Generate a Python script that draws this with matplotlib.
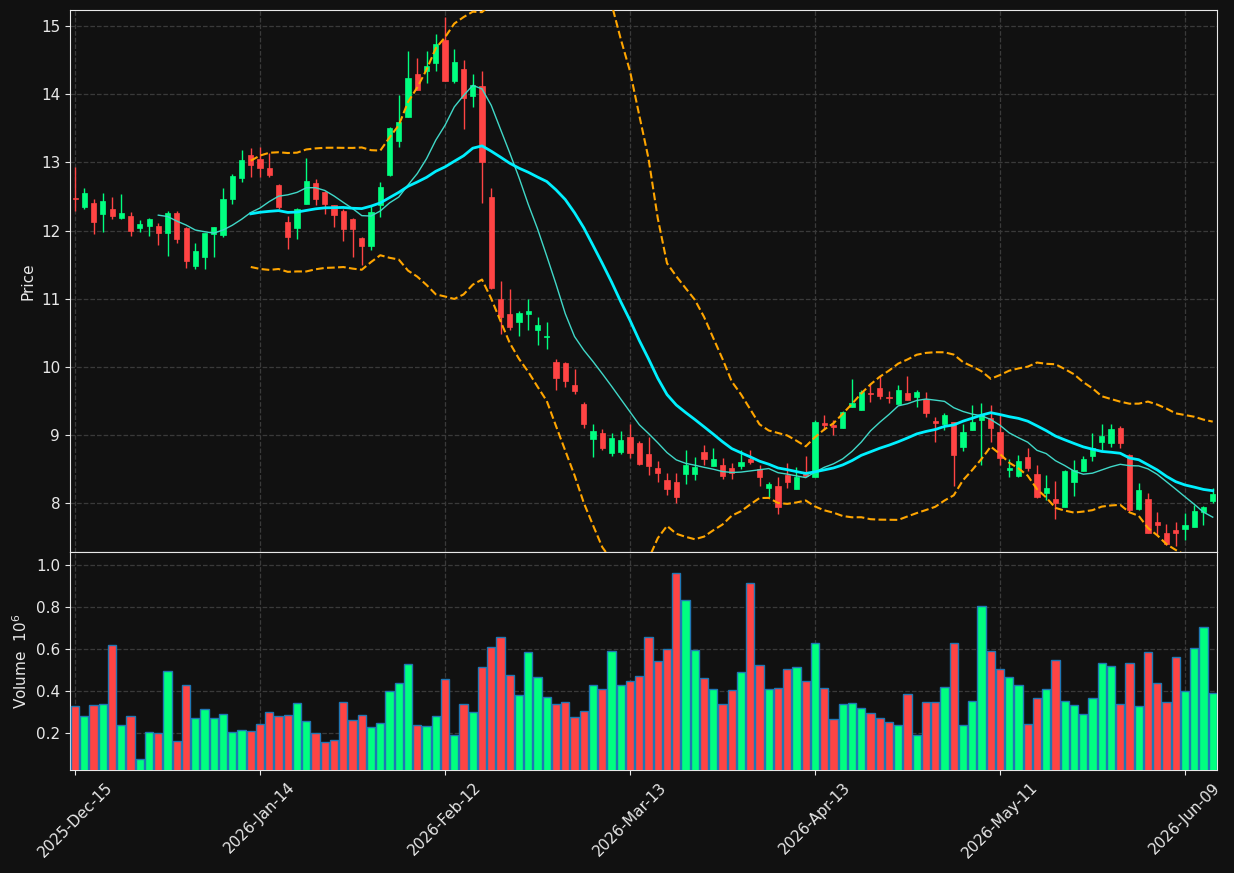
import matplotlib
matplotlib.use("Agg")
import matplotlib.pyplot as plt
import numpy as np
import pandas as pd

# -----------------------------
# Data (daily OHLC, volume in millions)
# -----------------------------
holidays = ["2025-12-25", "2026-01-01", "2026-01-19", "2026-02-16",
            "2026-04-03", "2026-05-25"]

opens = [
    12.47, 12.34, 12.40, 12.25, 12.32, 12.18, 12.21, 12.04, 12.07, 12.07,
    11.96, 12.26, 12.04, 11.48, 11.61, 11.95, 11.94, 12.46, 12.77, 13.11,
    13.05, 12.92, 12.67, 12.13, 12.04, 12.39, 12.70, 12.57, 12.37, 12.29,
    12.17, 11.89, 11.78, 12.38, 12.81, 13.32, 13.67, 14.30, 14.34, 14.46,
    14.79, 14.20, 14.37, 13.98, 14.12, 12.49, 11.00, 10.78, 10.66, 10.78,
    10.55, 10.44, 10.08, 10.06, 9.74, 9.46, 8.95, 9.03, 8.74, 8.76,
    8.97, 8.89, 8.72, 8.52, 8.34, 8.31, 8.43, 8.43, 8.75, 8.55,
    8.56, 8.52, 8.55, 8.65, 8.50, 8.23, 8.26, 8.42, 8.21, 8.45,
    8.39, 9.18, 9.15, 9.11, 9.42, 9.37, 9.61, 9.69, 9.55, 9.46,
    9.62, 9.56, 9.53, 9.21, 9.17, 9.19, 8.82, 9.07, 9.22, 9.25,
    9.04, 8.49, 8.40, 8.68, 8.43, 8.15, 8.06, 7.95, 8.32, 8.48,
    8.70, 8.90, 8.88, 9.10, 8.71, 7.92, 8.06, 7.73, 7.57, 7.61,
    7.63, 7.66, 7.87, 8.04,
]
highs = [
    12.93, 12.62, 12.46, 12.55, 12.49, 12.53, 12.28, 12.16, 12.18, 12.11,
    12.29, 12.29, 12.06, 11.82, 11.97, 12.06, 12.62, 12.83, 13.18, 13.21,
    13.22, 13.14, 12.68, 12.21, 12.33, 13.06, 12.75, 12.58, 12.38, 12.31,
    12.18, 11.90, 12.36, 12.72, 13.52, 13.99, 14.63, 14.53, 14.63, 14.88,
    15.14, 14.66, 14.50, 14.29, 14.34, 12.63, 11.26, 11.14, 10.82, 10.99,
    10.73, 10.66, 10.12, 10.07, 9.97, 9.48, 9.16, 9.09, 9.03, 9.06,
    9.16, 8.91, 8.98, 8.62, 8.44, 8.44, 8.79, 8.68, 8.85, 8.81,
    8.67, 8.59, 8.78, 8.78, 8.56, 8.32, 8.38, 8.59, 8.53, 8.69,
    9.22, 9.29, 9.23, 9.35, 9.82, 9.66, 9.75, 9.87, 9.65, 9.73,
    9.87, 9.66, 9.63, 9.26, 9.32, 9.20, 9.17, 9.45, 9.47, 9.45,
    9.30, 8.65, 8.71, 8.81, 8.57, 8.41, 8.33, 8.49, 8.64, 8.70,
    9.03, 9.17, 9.17, 9.13, 8.72, 8.30, 8.15, 7.87, 7.70, 7.72,
    7.86, 7.97, 7.96, 8.22,
]
lows = [
    12.29, 12.32, 11.95, 11.98, 12.17, 12.17, 11.92, 11.98, 11.92, 11.79,
    11.63, 11.82, 11.45, 11.43, 11.43, 11.62, 11.91, 12.39, 12.72, 12.79,
    12.79, 12.78, 12.32, 11.73, 11.87, 12.39, 12.37, 12.25, 12.06, 11.85,
    11.61, 11.50, 11.71, 12.20, 12.80, 13.23, 13.67, 14.06, 14.17, 14.34,
    14.20, 14.17, 13.49, 13.81, 12.40, 11.15, 10.49, 10.55, 10.46, 10.55,
    10.33, 10.26, 9.66, 9.70, 9.61, 9.10, 8.68, 8.79, 8.69, 8.73,
    8.66, 8.56, 8.41, 8.32, 8.13, 8.01, 8.29, 8.35, 8.56, 8.55,
    8.36, 8.36, 8.51, 8.58, 8.25, 8.10, 7.85, 8.22, 8.21, 8.39,
    8.38, 9.08, 9.01, 9.10, 9.42, 9.37, 9.48, 9.53, 9.47, 9.46,
    9.51, 9.41, 9.26, 8.90, 9.07, 8.26, 8.77, 9.07, 8.56, 8.90,
    8.56, 8.39, 8.38, 8.48, 8.08, 8.05, 7.77, 7.94, 8.11, 8.47,
    8.62, 8.78, 8.83, 8.81, 7.88, 7.91, 7.56, 7.53, 7.39, 7.37,
    7.46, 7.65, 7.68, 8.00,
]
closes = [
    12.46, 12.55, 12.13, 12.43, 12.21, 12.26, 12.00, 12.10, 12.17, 11.96,
    12.26, 11.88, 11.55, 11.70, 11.96, 12.05, 12.46, 12.80, 13.04, 12.96,
    12.92, 12.82, 12.34, 11.90, 12.32, 12.73, 12.47, 12.39, 12.23, 12.02,
    12.02, 11.78, 12.28, 12.64, 13.51, 13.59, 14.24, 14.06, 14.41, 14.74,
    14.20, 14.47, 13.95, 14.13, 13.00, 11.16, 10.74, 10.59, 10.79, 10.82,
    10.62, 10.46, 9.84, 9.80, 9.65, 9.17, 9.06, 8.81, 8.96, 8.93,
    8.74, 8.58, 8.55, 8.44, 8.21, 8.10, 8.56, 8.53, 8.65, 8.65,
    8.40, 8.44, 8.61, 8.61, 8.38, 8.28, 7.95, 8.32, 8.39, 8.40,
    9.20, 9.15, 9.12, 9.34, 9.47, 9.64, 9.60, 9.58, 9.54, 9.66,
    9.51, 9.63, 9.33, 9.18, 9.29, 8.71, 9.05, 9.19, 9.30, 9.11,
    8.66, 8.52, 8.62, 8.52, 8.10, 8.23, 8.01, 8.48, 8.49, 8.65,
    8.81, 8.99, 9.09, 8.88, 7.90, 8.20, 7.57, 7.68, 7.41, 7.56,
    7.69, 7.89, 7.94, 8.14,
]
volumes = [
    0.327, 0.279, 0.332, 0.337, 0.618, 0.237, 0.279, 0.075, 0.203, 0.198,
    0.494, 0.160, 0.427, 0.270, 0.313, 0.270, 0.289, 0.203, 0.213, 0.208,
    0.241, 0.299, 0.279, 0.284, 0.341, 0.256, 0.198, 0.156, 0.165, 0.346,
    0.260, 0.284, 0.227, 0.246, 0.398, 0.437, 0.527, 0.237, 0.232, 0.279,
    0.456, 0.189, 0.337, 0.302, 0.513, 0.608, 0.656, 0.475, 0.380, 0.584,
    0.465, 0.370, 0.337, 0.346, 0.275, 0.303, 0.427, 0.408, 0.589, 0.427,
    0.446, 0.470, 0.656, 0.541, 0.599, 0.960, 0.832, 0.594, 0.460, 0.408,
    0.337, 0.403, 0.489, 0.913, 0.522, 0.408, 0.413, 0.503, 0.513, 0.446,
    0.627, 0.413, 0.265, 0.337, 0.341, 0.318, 0.294, 0.270, 0.251, 0.237,
    0.384, 0.189, 0.346, 0.346, 0.418, 0.627, 0.237, 0.351, 0.803, 0.589,
    0.503, 0.465, 0.427, 0.241, 0.365, 0.408, 0.546, 0.351, 0.332, 0.289,
    0.365, 0.532, 0.518, 0.337, 0.532, 0.327, 0.584, 0.437, 0.346, 0.561,
    0.399, 0.603, 0.703, 0.389,
]

dates = pd.bdate_range("2025-12-15", periods=len(closes), freq="C",
                       holidays=holidays)

# -----------------------------
# Indicators: moving averages and Bollinger bands
# -----------------------------
close_s = pd.Series(closes)
ma10 = close_s.rolling(10).mean()
ma20 = close_s.rolling(20).mean()
std20 = close_s.rolling(20).std()
bb_upper = ma20 + 2 * std20
bb_lower = ma20 - 2 * std20

# -----------------------------
# Style
# -----------------------------
bg = "#111111"
fg = "#e8e8e8"
up_color = "#00ff80"
down_color = "#ff4444"

plt.rcParams["font.size"] = 11

fig = plt.figure(figsize=(12.34, 8.73), dpi=100, facecolor=bg)
ax = fig.add_axes([0.0567, 0.3677, 0.9295, 0.6208], facecolor=bg)
axv = fig.add_axes([0.0567, 0.1180, 0.9295, 0.2497], facecolor=bg, sharex=ax)

x = np.arange(len(closes))
o = np.array(opens)
c = np.array(closes)
colors = np.where(c >= o, up_color, down_color)

# -----------------------------
# Candles
# -----------------------------
ax.vlines(x, lows, highs, colors=colors, linewidth=1, zorder=2)
body_bottom = np.minimum(o, c)
body_height = np.maximum(np.abs(c - o), 0.015)
ax.bar(x, body_height, bottom=body_bottom, width=0.55, color=colors,
       edgecolor=colors, linewidth=0.5, zorder=3)

ax.plot(x, ma10, color="#40d8c8", linewidth=1, zorder=4)
ax.plot(x, ma20, color="#00f0ff", linewidth=2, zorder=4)
ax.plot(x, bb_upper, color="#ffa500", linewidth=1.5, linestyle="--", zorder=4)
ax.plot(x, bb_lower, color="#ffa500", linewidth=1.5, linestyle="--", zorder=4)

# -----------------------------
# Volume
# -----------------------------
axv.bar(x, volumes, width=0.88, color=colors, edgecolor="#1f77b4",
        linewidth=1, zorder=3)

# -----------------------------
# Axes formatting
# -----------------------------
tick_pos = x[::20]
tick_labels = [d.strftime("%Y-%b-%d") for d in dates[::20]]

ax.set_xlim(-0.55, len(closes) - 0.54)
ax.set_ylim(7.287, 15.235)
ax.set_yticks(range(8, 16))
axv.set_ylim(0.024, 1.062)
axv.set_yticks([0.2, 0.4, 0.6, 0.8, 1.0])

axv.set_xticks(tick_pos)
axv.set_xticklabels(tick_labels, rotation=45, ha="center")
ax.tick_params(axis="x", labelbottom=False)

ax.set_ylabel("Price", color=fg)
axv.set_ylabel("Volume  $10^{6}$", color=fg)

for a in (ax, axv):
    a.grid(True, color="#3a3a3a", linestyle="--", linewidth=0.9)
    a.set_axisbelow(True)
    a.tick_params(colors=fg, labelcolor=fg)
    for sp in a.spines.values():
        sp.set_color(fg)

fig.savefig("out.png", dpi=100, facecolor=bg)
